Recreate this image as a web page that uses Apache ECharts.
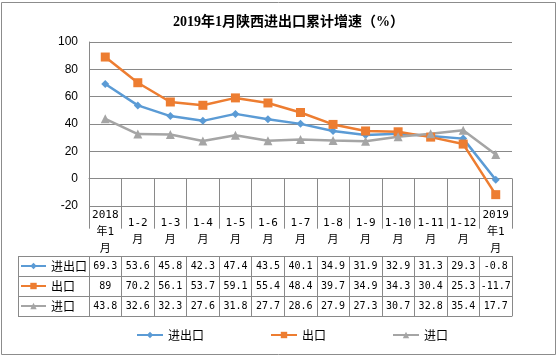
<!DOCTYPE html>
<html>
<head>
<meta charset="utf-8">
<script src="https://cdn.jsdelivr.net/npm/echarts@6/dist/echarts.min.js"></script>
<style>
html,body{margin:0;padding:0;background:#fff;}
#main{width:557px;height:356px;}
</style>
</head>
<body>
<div id="main"></div>
<script>
// ---- data ----
var categories = ['2018\n年1\n月','1-2\n月','1-3\n月','1-4\n月','1-5\n月','1-6\n月','1-7\n月','1-8\n月','1-9\n月','1-10\n月','1-11\n月','1-12\n月','2019\n年1\n月'];
var seriesNames = ['进出口','出口','进口'];
var totalTrade = [69.3, 53.6, 45.8, 42.3, 47.4, 43.5, 40.1, 34.9, 31.9, 32.9, 31.3, 29.3, -0.8];
var exportsData = [89, 70.2, 56.1, 53.7, 59.1, 55.4, 48.4, 39.7, 34.9, 34.3, 30.4, 25.3, -11.7];
var importsData = [43.8, 32.6, 32.3, 27.6, 31.8, 27.7, 28.6, 27.9, 27.3, 30.7, 32.8, 35.4, 17.7];
var yTicks = [-20, 0, 20, 40, 60, 80, 100];

// ---- styles ----
var colors = ['#5B9BD5', '#ED7D31', '#A5A5A5'];
var gridGray = '#898989';
var monoFont = "'DejaVu Sans Mono', 'Noto Sans CJK SC', monospace";
var cjkFont = "'Noto Sans CJK SC', sans-serif";
var GRID_LEFT = 89, GRID_RIGHT = 45, GRID_TOP = 42, GRID_BOTTOM = 150;
var ROW_H = 20, HEAD_H = 50;

var rows = [totalTrade, exportsData, importsData];

var xAxes = [{
  type: 'category',
  data: categories,
  position: 'bottom',
  boundaryGap: true,
  axisLine: { show: true, lineStyle: { color: gridGray, width: 1 } },
  axisTick: { show: true, interval: 0, length: HEAD_H, lineStyle: { color: gridGray, width: 1 } },
  axisLabel: {
    interval: 0, margin: HEAD_H / 2 + 1, verticalAlign: 'middle', lineHeight: 17,
    fontSize: 11, fontFamily: monoFont, color: '#000'
  }
}];
rows.forEach(function (row, r) {
  xAxes.push({
    type: 'category',
    data: categories,
    position: 'bottom',
    boundaryGap: true,
    offset: HEAD_H + ROW_H * r,
    axisLine: { show: true, lineStyle: { color: gridGray, width: 1 } },
    axisTick: { show: true, interval: 0, length: ROW_H, lineStyle: { color: gridGray, width: 1 } },
    axisLabel: {
      interval: 0, margin: ROW_H / 2, verticalAlign: 'middle',
      fontSize: 10, fontFamily: monoFont, color: '#000',
      formatter: function (v, i) { return String(row[i]); }
    }
  });
});
xAxes.push({
  type: 'category',
  data: categories,
  position: 'bottom',
  offset: HEAD_H + ROW_H * 3,
  axisLine: { show: true, lineStyle: { color: gridGray, width: 1 } },
  axisTick: { show: false },
  axisLabel: { show: false }
});

var symbols = ['diamond', 'rect', 'triangle'];
var symbolSizes = [8, 9, 9];
var series = rows.map(function (row, i) {
  return {
    name: seriesNames[i],
    type: 'line',
    xAxisIndex: 0,
    data: row,
    symbol: symbols[i],
    symbolSize: symbolSizes[i],
    lineStyle: { color: colors[i], width: 2.5 },
    itemStyle: { color: colors[i] },
    emphasis: { disabled: true },
    animation: false
  };
});

var chart = echarts.init(document.getElementById('main'), null, { renderer: 'canvas' });
chart.setOption({
  animation: false,
  title: {
    text: '2019年1月陕西进出口累计增速（%）',
    left: 173, top: 15, padding: 0,
    textStyle: { fontSize: 14, fontWeight: 'bold', color: '#000', fontFamily: "'Liberation Serif', 'Noto Sans CJK SC', serif" }
  },
  legend: [{
    data: seriesNames,
    left: 136, top: 328, padding: 0,
    itemWidth: 26, itemHeight: 8, itemGap: 66,
    selectedMode: false,
    textStyle: { fontSize: 12, lineHeight: 14, color: '#000', fontFamily: cjkFont }
  }, {
    data: seriesNames,
    orient: 'vertical',
    left: 20, top: 356 - GRID_BOTTOM + HEAD_H + 3, padding: 0,
    itemWidth: 25, itemHeight: 8, itemGap: 6,
    selectedMode: false,
    textStyle: { fontSize: 12, lineHeight: 14, color: '#000', fontFamily: cjkFont }
  }],
  grid: { left: GRID_LEFT, right: GRID_RIGHT, top: GRID_TOP, bottom: GRID_BOTTOM, containLabel: false, outerBoundsMode: 'none' },
  xAxis: xAxes,
  yAxis: {
    type: 'value',
    min: yTicks[0], max: yTicks[yTicks.length - 1], interval: 20,
    axisLine: { show: true, lineStyle: { color: gridGray, width: 1 } },
    axisTick: { show: false },
    splitLine: { show: true, lineStyle: { color: gridGray, width: 1 } },
    axisLabel: { margin: 11, fontSize: 12, color: '#000', fontFamily: "'Liberation Sans', sans-serif" }
  },
  series: series
});

// table legend-column borders and outer frame
var y0 = chart.convertToPixel({ yAxisIndex: 0 }, yTicks[0]);
var TABLE_LEFT = 18;
var g = [];
for (var r = 0; r <= 3; r++) {
  var yy = Math.round(y0 + HEAD_H + ROW_H * r) + 0.5;
  g.push({ type: 'line', shape: { x1: TABLE_LEFT, y1: yy, x2: GRID_LEFT, y2: yy }, style: { stroke: gridGray, lineWidth: 1 }, silent: true });
}
g.push({ type: 'line', shape: { x1: TABLE_LEFT + 0.5, y1: Math.round(y0 + HEAD_H) + 0.5, x2: TABLE_LEFT + 0.5, y2: Math.round(y0 + HEAD_H + ROW_H * 3) + 0.5 }, style: { stroke: gridGray, lineWidth: 1 }, silent: true });
g.push({ type: 'rect', shape: { x: 1.5, y: 2.5, width: 554, height: 352 }, style: { fill: 'none', stroke: '#8c8c8c', lineWidth: 1 }, silent: true });
chart.setOption({ graphic: g });
</script>
</body>
</html>
